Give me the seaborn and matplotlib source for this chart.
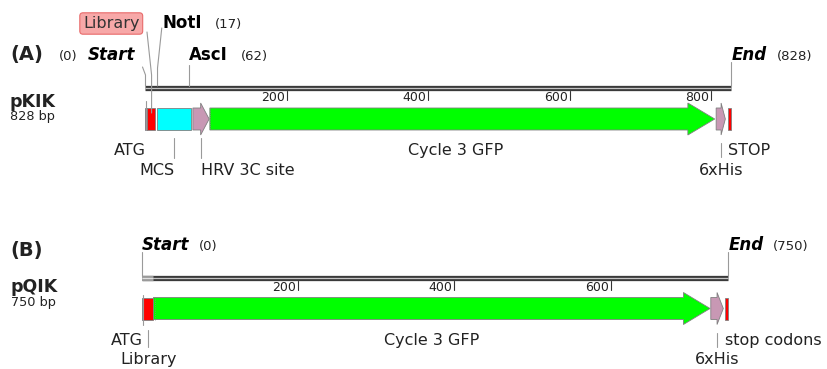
import matplotlib
matplotlib.use('Agg')
import matplotlib.pyplot as plt
from matplotlib.patches import Polygon
import seaborn as sns

sns.set_theme(style='white')
plt.rcParams['font.family'] = ['DejaVu Sans']

# ---------- data: pKIK (A) ----------
a_len = 828
a_names = ['ATG', 'Library', 'MCS', 'HRV 3C site', 'Cycle 3 GFP', '6xHis', 'STOP']
a_start = [0, 2, 16, 67, 91, 807, 824]
a_end = [2, 13, 65, 90, 805, 820, 828]
a_head = [0, 0, 0, 12, 38, 6, 0]
a_colors = ['#7d3c98', '#ff0000', '#00ffff', '#c898b4', '#00ff00', '#c898b4', '#ff0000']
a_ticks = [200, 400, 600, 800]

# ---------- data: pQIK (B) ----------
b_len = 750
b_names = ['ATG', 'Library', 'Cycle 3 GFP', '6xHis', 'stop codons']
b_start = [0, 2, 15, 728, 746]
b_end = [2, 15, 727, 744, 750]
b_head = [0, 0, 34, 8, 0]
b_colors = ['#7d3c98', '#ff0000', '#00ff00', '#c898b4', '#ff0000']
b_ticks = [200, 400, 600]

W, H = 828, 369
fig = plt.figure(figsize=(W / 100, H / 100), dpi=100)
axA = fig.add_axes([0, 184 / H, 1, 185 / H])
axB = fig.add_axes([0, 0, 1, 184 / H])

LINE = '#9a9a9a'
TXT = '#222222'


def setup(ax, x0_px, x1_px, length, ytop, ybot):
    scale = (x1_px - x0_px) / length
    ax.set_xlim(-x0_px / scale, (W - x0_px) / scale)
    ax.set_ylim(ybot, ytop)
    ax.axis('off')
    return scale


def backbone(ax, length, y, light_to=0):
    sns.lineplot(x=[0, length], y=[y, y], ax=ax, color='#3a3a3a', lw=3.8,
                 estimator=None, legend=False, solid_capstyle='butt')
    ax.plot([0, length], [y, y], color='#c4c4c4', lw=0.9, solid_capstyle='butt')
    if light_to:
        ax.plot([0, light_to], [y, y], color='#9a9a9a', lw=3.8, solid_capstyle='butt')
        ax.plot([0, light_to], [y, y], color='#e0e0e0', lw=0.9, solid_capstyle='butt')


def feature(ax, s, e, yc, color, head, h=11, hh=16):
    if head > 0:
        hb = e - head
        pts = [(s, yc - h), (hb, yc - h), (hb, yc - hh), (e, yc),
               (hb, yc + hh), (hb, yc + h), (s, yc + h)]
    else:
        pts = [(s, yc - h), (e, yc - h), (e, yc + h), (s, yc + h)]
    ax.add_patch(Polygon(pts, closed=True, fc=color, ec='#808080', lw=0.6, zorder=3))


def ticks(ax, tlist, y, scale):
    for t in tlist:
        ax.plot([t, t], [y + 3, y + 12], color='#333333', lw=0.8)
        ax.text(t - 2 / scale, y + 13, str(t), ha='right', va='baseline',
                fontsize=9, color=TXT)


def vline(ax, x, y0, y1):
    ax.plot([x, x], [y0, y1], color=LINE, lw=0.8, zorder=4)


# ================= panel A =================
sa = setup(axA, 145.5, 731, a_len, 0, 185)
trA = axA.get_yaxis_transform()
backbone(axA, a_len, 88)
ticks(axA, a_ticks, 88, sa)
for s, e, hd, c in zip(a_start, a_end, a_head, a_colors):
    feature(axA, s, e, 119, c, hd)
axA.plot([a_start[4], a_start[4]], [108, 130], color='#888888', lw=0.6, ls=':', zorder=4)

# top site pointers
axA.plot([0, 0, -3 / sa], [86, 75, 67], color=LINE, lw=0.8)
axA.plot([8.6, 8.6, 2.1], [113, 75, 32], color=LINE, lw=0.8, zorder=4)
axA.plot([17, 17, 23], [86, 68, 28], color=LINE, lw=0.8)
vline(axA, 62, 86, 65)
vline(axA, a_len, 86, 62)

axA.text(10 / W, 60, '(A)', transform=trA, fontsize=14, fontweight='bold', color=TXT, va='baseline')
axA.text(59 / W, 60, '(0)', transform=trA, fontsize=9.5, color=TXT, va='baseline')
axA.text(88 / W, 60, 'Start', transform=trA, fontsize=12, fontweight='bold',
         fontstyle='italic', color='black', va='baseline')
axA.text(83 / W, 28, 'Library', transform=trA, fontsize=11.5, color='#333333', va='baseline',
         bbox=dict(boxstyle='round,pad=0.2', fc='#f7a8a8', ec='#e86a6a', lw=0.8))
axA.text(163 / W, 28, 'NotI', transform=trA, fontsize=12, fontweight='bold', color='black', va='baseline')
axA.text(215 / W, 28, '(17)', transform=trA, fontsize=9.5, color=TXT, va='baseline')
axA.text(189 / W, 60, 'AscI', transform=trA, fontsize=12, fontweight='bold', color='black', va='baseline')
axA.text(241 / W, 60, '(62)', transform=trA, fontsize=9.5, color=TXT, va='baseline')
axA.text(732 / W, 60, 'End', transform=trA, fontsize=12, fontweight='bold',
         fontstyle='italic', color='black', va='baseline')
axA.text(777 / W, 60, '(828)', transform=trA, fontsize=9.5, color=TXT, va='baseline')
axA.text(10 / W, 107, 'pKIK', transform=trA, fontsize=12.5, fontweight='bold', color=TXT, va='baseline')
axA.text(10 / W, 120, '828 bp', transform=trA, fontsize=9.3, color=TXT, va='baseline')

# feature labels
vline(axA, 0.3, 101, 130)
axA.text(0, 155, a_names[0], ha='right', va='baseline', fontsize=11.5, color=TXT)
mcs_c = (a_start[2] + a_end[2]) / 2
vline(axA, mcs_c, 138, 158)
axA.text(mcs_c, 175, a_names[2], ha='right', va='baseline', fontsize=11.5, color=TXT)
hrv_c = (a_start[3] + a_end[3]) / 2
vline(axA, hrv_c, 138, 158)
axA.text(hrv_c, 175, a_names[3], ha='left', va='baseline', fontsize=11.5, color=TXT)
axA.text((a_start[4] + a_end[4]) / 2 - 10, 155, a_names[4], ha='center', va='baseline',
         fontsize=11.5, color=TXT)
his_c = (a_start[5] + a_end[5]) / 2
vline(axA, his_c, 143, 157)
axA.text(his_c, 175, a_names[5], ha='center', va='baseline', fontsize=11.5, color=TXT)
axA.text(a_start[6], 155, a_names[6], ha='left', va='baseline', fontsize=11.5, color=TXT)

# ================= panel B =================
sb = setup(axB, 141.7, 728, b_len, 185, 369)
trB = axB.get_yaxis_transform()
backbone(axB, b_len, 278, light_to=b_end[1])
ticks(axB, b_ticks, 278, sb)
for s, e, hd, c in zip(b_start, b_end, b_head, b_colors):
    feature(axB, s, e, 308.5, c, hd)
axB.plot([b_start[2] + 2, b_start[2] + 2], [297, 320], color='#888888', lw=0.6, ls=':', zorder=4)

vline(axB, 0, 252, 276)
vline(axB, b_len, 252, 276)
axB.text(10 / W, 256, '(B)', transform=trB, fontsize=14, fontweight='bold', color=TXT, va='baseline')
axB.text(142 / W, 250, 'Start', transform=trB, fontsize=12, fontweight='bold',
         fontstyle='italic', color='black', va='baseline')
axB.text(199 / W, 250, '(0)', transform=trB, fontsize=9.5, color=TXT, va='baseline')
axB.text(729 / W, 250, 'End', transform=trB, fontsize=12, fontweight='bold',
         fontstyle='italic', color='black', va='baseline')
axB.text(773 / W, 250, '(750)', transform=trB, fontsize=9.5, color=TXT, va='baseline')
axB.text(11 / W, 292, 'pQIK', transform=trB, fontsize=12.5, fontweight='bold', color=TXT, va='baseline')
axB.text(11 / W, 306, '750 bp', transform=trB, fontsize=9.3, color=TXT, va='baseline')

vline(axB, 1.5, 295, 325)
axB.text(1.5, 345, b_names[0], ha='right', va='baseline', fontsize=11.5, color=TXT)
lib_c = (b_start[1] + b_end[1]) / 2
vline(axB, lib_c, 330, 347)
axB.text(lib_c, 364, b_names[1], ha='center', va='baseline', fontsize=11.5, color=TXT)
axB.text((b_start[2] + b_end[2]) / 2, 345, b_names[2], ha='center', va='baseline',
         fontsize=11.5, color=TXT)
hisb_c = (b_start[3] + b_end[3]) / 2
vline(axB, hisb_c, 333, 347)
axB.text(hisb_c, 364, b_names[3], ha='center', va='baseline', fontsize=11.5, color=TXT)
axB.text(b_start[4], 345, b_names[4], ha='left', va='baseline', fontsize=11.5, color=TXT)

fig.savefig('out.png', dpi=100, facecolor='white')
plt.close(fig)
